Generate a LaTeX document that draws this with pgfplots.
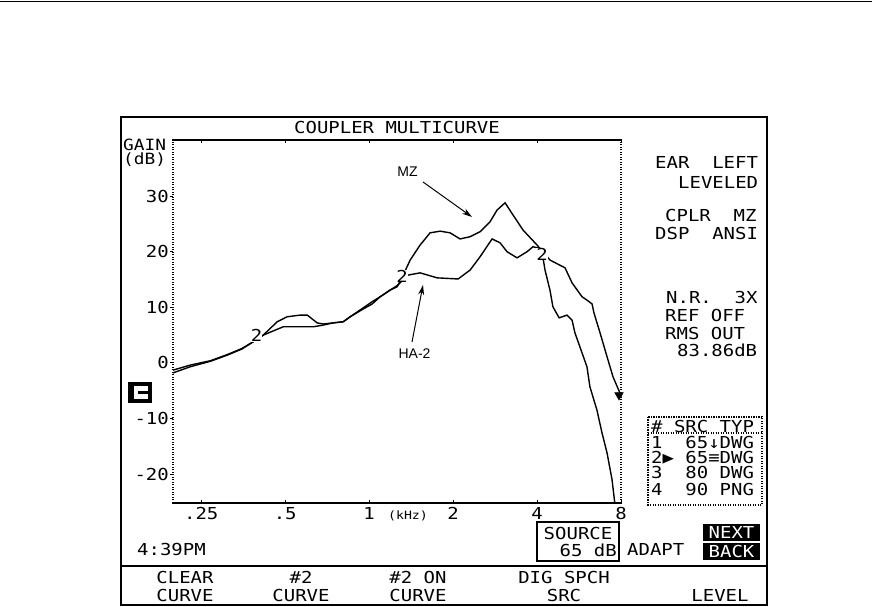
\documentclass[border=0pt]{standalone}
\usepackage{pgfplots}
\pgfplotsset{compat=1.18}
\usetikzlibrary{arrows.meta}
\usepackage{fontspec}
\setmainfont{DejaVu Sans Mono}
\newfontfamily\lcd[FakeStretch=1.15]{DejaVu Sans Mono}
\newfontfamily\arial{Liberation Sans}
\newcommand\lcdf{\fontsize{16.5}{18}\selectfont\lcd}
\newcommand\smallf{\fontsize{11.5}{12}\selectfont\lcd}

% gain curves (kHz, dB)
\pgfplotstableread{
f      g
0.198 -1.3
0.228 -0.4
0.27   0.4
0.31   1.5
0.35   2.6
0.384  3.8
0.417  5.0
0.468  7.4
0.508  8.3
0.566  8.6
0.60   8.6
0.651  7.2
0.684  7.0
0.743  7.2
0.807  7.4
0.855  8.3
0.952  9.9
1.025 11.0
1.095 11.9
1.189 13.1
1.26  13.7
1.33  16.0
1.403 18.5
1.523 21.2
1.654 23.4
1.796 23.7
1.951 23.4
2.119 22.3
2.301 22.7
2.499 23.6
2.714 25.4
2.876 27.5
3.072 28.8
3.281 26.6
3.563 23.9
4.0   21.2
4.453 18.5
5.04  17.1
5.34  14.4
5.8   11.9
6.04  11.3
6.30  10.6
6.40   9.0
6.73   5.4
7.13   1.1
7.49  -2.5
7.93  -5.4
8.0   -6.1
}\mz
\pgfplotstableread{
f      g
0.198 -1.8
0.228 -0.7
0.27   0.3
0.31   1.4
0.35   2.5
0.384  3.8
0.417  5.0
0.492  6.5
0.63   6.5
0.684  6.8
0.743  7.2
0.807  7.4
0.855  8.3
0.952  9.7
1.025 10.6
1.095 11.9
1.189 13.1
1.26  13.9
1.38  15.8
1.523 16.2
1.753 15.3
2.085 15.1
2.301 16.7
2.499 19.1
2.759 22.3
2.948 21.6
3.123 20.0
3.391 18.9
3.683 20.0
3.869 20.9
4.15  20.5
4.272 16.7
4.45  13.1
4.56  10.1
4.80   8.1
5.12   8.6
5.34   7.7
5.47   5.4
5.80   1.8
6.04  -0.7
6.19  -4.3
6.56  -8.5
6.84 -12.6
7.13 -16.2
7.43 -21.0
7.6  -25.2
}\hatwo

\begin{document}
\begin{tikzpicture}[x=1pt,y=1pt]
\path[use as bounding box] (0,0) rectangle (889,607);
\draw[line width=1pt] (0,605.5) -- (872,605.5);
\draw[line width=2pt] (121,490) rectangle (767,2);

\begin{axis}[
  at={(173pt,104pt)}, anchor=south west,
  scale only axis, width=448pt, height=363pt,
  xmode=log, log basis x=2,
  xmin=0.198, xmax=8, ymin=-25.2, ymax=40.1,
  axis line style={draw=none},
  xtick={0.25,0.5,1,2,4,8}, xticklabels={.25,.5,1,2,4,8},
  ytick={-20,-10,0,10,20,30}, yticklabels={-20,-10,0,10,20,30},
  minor xtick={}, minor ytick={},
  xtick pos=both, ytick pos=left,
  xtick align=inside, ytick align=outside,
  major tick length=3pt,
  tick style={black, line width=1pt},
  xticklabel style={font=\lcdf, anchor=north, inner sep=0pt, yshift=-4pt},
  yticklabel style={font=\lcdf, anchor=east, inner sep=0pt, xshift=-1pt},
  clip=false,
]
\addplot[black, line width=1.4pt] table[x=f, y=g] {\mz};
\addplot[black, line width=1.4pt] table[x=f, y=g] {\hatwo};
\addplot[only marks, mark=triangle*, mark size=5pt, mark options={rotate=180, fill=black}] coordinates {(7.87,-5.8)};
\node[font=\lcdf, fill=white, inner sep=0pt] at (axis cs:0.395,4.9) {2};
\node[font=\lcdf, fill=white, inner sep=0pt] at (axis cs:1.313,15.6) {2};
\node[font=\lcdf, fill=white, inner sep=0pt] at (axis cs:4.17,19.6) {2};
\end{axis}

% axis frame: solid top and bottom, dotted sides
\draw[line width=2.5pt] (172,467) -- (622,467);
\draw[line width=2.5pt] (172,104) -- (622,104);
\draw[line width=1.3pt, dash pattern=on 1.2pt off 1.3pt] (173,104) -- (173,467);
\draw[line width=1.3pt, dash pattern=on 1.2pt off 1.3pt] (621,104) -- (621,467);

\node[font=\lcdf] at (397,479) {COUPLER MULTICURVE};
\node[font=\fontsize{15.5}{17}\selectfont\lcd, anchor=west, inner sep=0pt] at (123,462) {GAIN};
\node[font=\fontsize{15.5}{17}\selectfont\lcd, anchor=west, inner sep=0pt] at (123,447) {(dB)};
\node[font=\smallf] at (408,91) {(kHz)};

% annotations
\node[font=\fontsize{14}{15}\selectfont\arial] at (407.5,435) {MZ};
\draw[line width=1pt, -{Stealth[length=10pt,width=6pt]}] (423,425) -- (472,390);
\node[font=\fontsize{14}{15}\selectfont\arial] at (414.5,253) {HA-2};
\draw[line width=1pt, -{Stealth[length=10pt,width=6pt]}] (412,265) -- (423,322);

% left icon
\fill (128,204) rectangle (134,225);
\fill (128,221) rectangle (152,225);
\fill (128,204) rectangle (152,208);
\fill (148,204) rectangle (152,225);
\fill (138,212.5) rectangle (152,216);

% right panel
\begin{scope}[every node/.style={font=\lcdf, anchor=west, inner sep=0pt}]
\node at (655,445) {EAR~~LEFT};
\node at (678,425) {LEVELED};
\node at (665,391) {CPLR~~MZ};
\node at (655,373) {DSP~~ANSI};
\node at (666,309.5) {N.R.~~3X};
\node at (665,291) {REF~OFF};
\node at (665,273) {RMS~OUT};
\node at (677,257) {83.86dB};
\node at (651,181) {\#~SRC~TYP};
\node at (651,164.5) {1~~65↓DWG};
\node at (651,149.5) {2▶~65≡DWG};
\node at (651,134.5) {3~~80~DWG};
\node at (651,118) {4~~90~PNG};
\node at (137,58) {4:39PM};
\node at (627,58) {ADAPT};
\end{scope}
\draw[line width=1.2pt, dash pattern=on 1.2pt off 1.3pt] (648,190) rectangle (762,102);
\draw[line width=1.2pt, dash pattern=on 1.2pt off 1.3pt] (648,174) -- (762,174);

% bottom bar
\draw[line width=1.5pt] (537,85) rectangle (619,46);
\node[font=\lcdf] at (578,74) {SOURCE};
\node[font=\lcdf, anchor=east, inner sep=0pt] at (617,57) {65~dB};
\fill (703,83) rectangle (760,66);
\node[font=\lcdf, text=white] at (731.5,74.5) {NEXT};
\fill (703,64) rectangle (760,47);
\node[font=\lcdf, text=white] at (731.5,55.5) {BACK};
\draw[line width=2.5pt] (121,41) -- (767,41);
\begin{scope}[every node/.style={font=\lcdf, inner sep=0pt}]
\node at (185,30) {CLEAR};  \node at (185,12) {CURVE};
\node at (301,30) {\#2};    \node at (301,12) {CURVE};
\node at (418,30) {\#2~ON}; \node at (418,12) {CURVE};
\node at (564,30) {DIG~SPCH}; \node at (564,12) {SRC};
\node at (720,12) {LEVEL};
\end{scope}
\end{tikzpicture}
\end{document}
